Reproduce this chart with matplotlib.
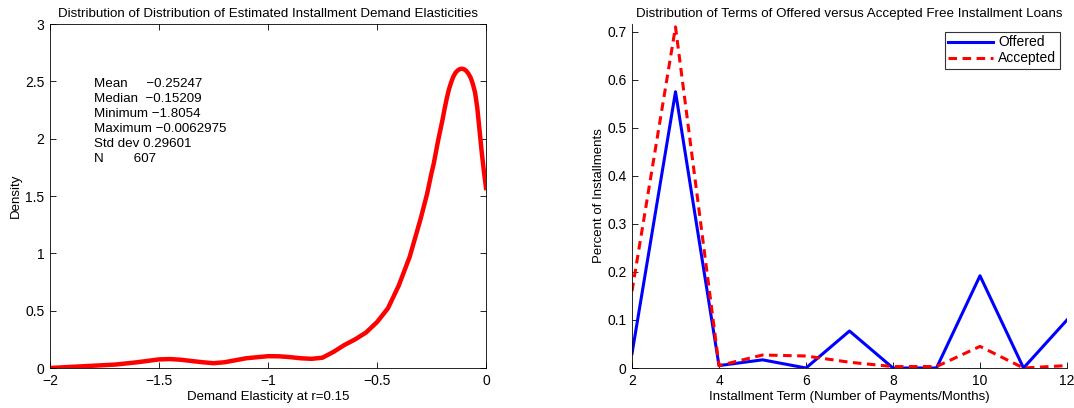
import matplotlib
matplotlib.use("Agg")
import matplotlib.pyplot as plt
from matplotlib.ticker import FuncFormatter

plt.rcParams['font.family'] = ['Liberation Sans', 'DejaVu Sans']

# ---- left panel data: kernel density of elasticities
elasticity = [-2.0, -1.9, -1.8, -1.7, -1.6, -1.5, -1.45, -1.4, -1.3, -1.25, -1.2, -1.1,
              -1.0, -0.95, -0.9, -0.85, -0.8, -0.75, -0.7, -0.65, -0.6, -0.55, -0.5,
              -0.45, -0.4, -0.35, -0.3, -0.27, -0.25, -0.24, -0.23, -0.22, -0.21, -0.2,
              -0.19, -0.18, -0.17, -0.16, -0.15, -0.14, -0.13, -0.12, -0.11, -0.1,
              -0.09, -0.08, -0.07, -0.06, -0.05, -0.04, -0.03, -0.02, -0.01, 0.0]
density = [0.0, 0.01, 0.02, 0.03, 0.05, 0.075, 0.078, 0.072, 0.05, 0.042, 0.05, 0.085,
           0.103, 0.102, 0.095, 0.085, 0.08, 0.09, 0.14, 0.2, 0.25, 0.31, 0.40,
           0.52, 0.72, 0.97, 1.3, 1.52, 1.7, 1.78, 1.88, 1.98, 2.07, 2.16,
           2.26, 2.35, 2.43, 2.49, 2.54, 2.575, 2.595, 2.607, 2.61, 2.605,
           2.59, 2.565, 2.53, 2.475, 2.4, 2.27, 2.08, 1.89, 1.72, 1.57]

stat_names = ["Mean", "Median", "Minimum", "Maximum", "Std dev", "N"]
stat_values = ["\u22120.25247", "\u22120.15209", "\u22121.8054", "\u22120.0062975", "0.29601", "607"]
stat_seps = ["     ", "  ", " ", " ", " ", "        "]

# ---- right panel data
terms = [2, 3, 4, 5, 6, 7, 8, 9, 10, 11, 12]
offered = [0.03, 0.575, 0.005, 0.017, 0.0, 0.077, 0.0, 0.0, 0.192, 0.0, 0.1]
accepted = [0.16, 0.71, 0.005, 0.027, 0.025, 0.012, 0.003, 0.003, 0.045, 0.0, 0.005]

fig = plt.figure(figsize=(10.74, 4.08), dpi=100)

fmt = FuncFormatter(lambda v, p: ("%g" % v).replace("-", "\u2212"))

# Left axes
ax1 = fig.add_axes([50/1074, 1-368/408, 436/1074, 344/408])
ax1.plot(elasticity, density, color=(1, 0, 0), lw=3.2, solid_joinstyle='round')
ax1.set_xlim(-2, 0)
ax1.set_ylim(0, 3)
ax1.set_xticks([-2, -1.5, -1, -0.5, 0])
ax1.set_yticks([0, 0.5, 1, 1.5, 2, 2.5, 3])
ax1.xaxis.set_major_formatter(fmt)
ax1.yaxis.set_major_formatter(fmt)
ax1.tick_params(direction='in', top=True, right=True, length=4, labelsize=10, pad=4, width=0.6)
for s in ax1.spines.values():
    s.set_linewidth(0.6)
ax1.set_title("Distribution of Distribution of Estimated Installment Demand Elasticities",
              fontsize=9.6, pad=5)
ax1.set_xlabel("Demand Elasticity at r=0.15", fontsize=9.5, labelpad=2.5)
ax1.set_ylabel("Density", fontsize=9.5, labelpad=2)
lines = [n + sep + v for n, sep, v in zip(stat_names, stat_seps, stat_values)]
ax1.text(-1.8, 2.53, "\n".join(lines), fontsize=9.6, va='top', ha='left', linespacing=1.33)

# Right axes
ax2 = fig.add_axes([632/1074, 1-368/408, 435/1074, 344/408])
ax2.plot(terms, offered, color=(0, 0, 1), lw=2.2, label="Offered")
ax2.plot(terms, accepted, color=(1, 0, 0), lw=2.2, ls=(0, (2.8, 1.8)), label="Accepted")
ax2.set_xlim(2, 12)
ax2.set_ylim(0, 0.716)
ax2.set_xticks([2, 4, 6, 8, 10, 12])
ax2.set_yticks([0, 0.1, 0.2, 0.3, 0.4, 0.5, 0.6, 0.7])
ax2.xaxis.set_major_formatter(fmt)
ax2.yaxis.set_major_formatter(fmt)
ax2.spines['top'].set_visible(False)
ax2.spines['right'].set_visible(False)
for s in ax2.spines.values():
    s.set_linewidth(0.6)
ax2.tick_params(direction='in', length=4, labelsize=10, pad=4, width=0.6)
ax2.set_title("Distribution of Terms of Offered versus Accepted Free Installment Loans",
              fontsize=9.6, pad=5)
ax2.set_xlabel("Installment Term (Number of Payments/Months)", fontsize=9.5, labelpad=2.5)
ax2.set_ylabel("Percent of Installments", fontsize=9.5, labelpad=1.5)
leg = ax2.legend(loc='upper right', bbox_to_anchor=(0.99, 0.985), fontsize=10, frameon=True,
                 fancybox=False, edgecolor='black', borderpad=0.25, labelspacing=0.15,
                 handlelength=3.2, handletextpad=0.4, borderaxespad=0.2)
leg.get_frame().set_linewidth(0.8)

fig.savefig("out.png", dpi=100)
